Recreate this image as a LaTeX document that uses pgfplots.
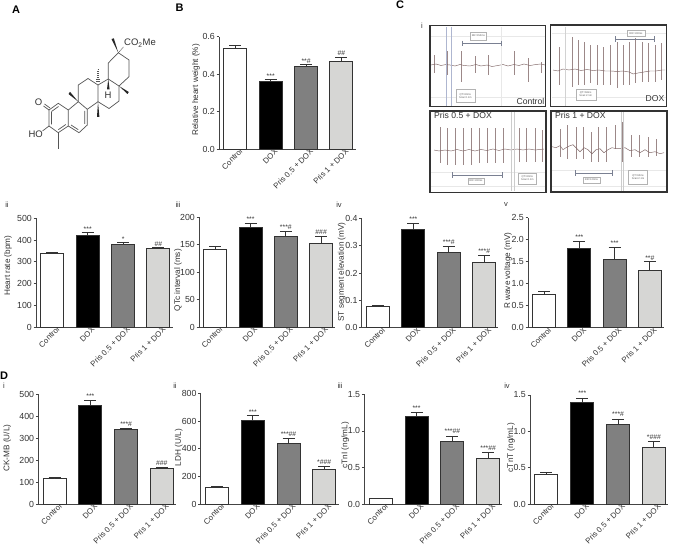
\documentclass[border=0pt]{standalone}
\usepackage{fontspec}
\setmainfont{Liberation Sans}
\usepackage{pgfplots}
\pgfplotsset{compat=1.18}
\definecolor{Ink}{HTML}{333333}
\definecolor{AxisGrey}{HTML}{444444}
\definecolor{BarMid}{HTML}{808080}
\definecolor{BarLight}{HTML}{D6D6D4}
\definecolor{Trace}{HTML}{9C8888}
\definecolor{TraceBase}{HTML}{7E6464}
\definecolor{Band}{HTML}{AEB6D0}
\definecolor{Bond}{HTML}{555555}
\tikzset{
  note/.style={font=\fontsize{6.8}{7}\selectfont, text=Ink, inner sep=0.5pt, anchor=south},
  tiny/.style={draw=gray!60, line width=0.3pt, fill=white, font=\fontsize{2.6}{3}\selectfont, text=gray!70!black, align=center, inner sep=0.5pt},
  bond/.style={draw=Bond, line width=0.7pt},
  wedge/.style={fill=black!85, draw=none},
  panel/.style={font=\bfseries\fontsize{11}{12}\selectfont, text=black, inner sep=0pt},
  sub/.style={font=\fontsize{7.5}{8}\selectfont, text=Ink, inner sep=0pt}
}
\pgfplotsset{
  bio/.style n args={4}{
    scale only axis, clip=false,
    at={(#1pt,-#2pt)}, anchor=south west,
    height=#2pt-#3pt, x=#4pt,
    ymin=0, xmin=-0.46, xmax=3.40,
    ybar, bar shift=0pt, bar width=23pt,
    axis x line=bottom, axis y line=left,
    axis line style={draw=AxisGrey, line width=1pt, -},
    xtick={0,1,2,3},
    xticklabels={Control,DOX,Pris 0.5 + DOX,Pris 1 + DOX},
    x tick style={draw=none},
    y tick style={draw=AxisGrey, line width=0.7pt},
    tick align=outside, major tick length=2.5pt,
    xticklabel style={rotate=45, anchor=north east, font=\fontsize{7.8}{8}\selectfont, text=Ink, xshift=6pt, yshift=1pt, inner sep=1pt},
    yticklabel style={font=\fontsize{8.8}{9}\selectfont, text=Ink, inner sep=1.5pt, /pgf/number format/assume math mode=true},
    scaled y ticks=false,
  },
  ylab/.style 2 args={
    every axis y label/.style={at={(rel axis cs:0,0.5)}, xshift=-#1pt, yshift=#2pt, rotate=90, anchor=center, font=\fontsize{8.2}{9}\selectfont, text=Ink, inner sep=0pt},
  },
  onedp/.style={yticklabel style={/pgf/number format/.cd, fixed, fixed zerofill, precision=1}},
  ecg/.style n args={6}{
    hide axis, scale only axis, at={(#1pt,-#2pt)}, anchor=south west,
    width=#3pt, height=#4pt, xmin=#1, xmax=#1+#3, ymin=#5, ymax=#6,
  },
}
\newcommand{\onebar}[4]{\addplot[fill=#4, draw=Ink, line width=1pt,
  error bars/.cd, y dir=plus, y explicit,
  error bar style={draw=Ink, line width=0.8pt},
  error mark options={rotate=90, mark size=6pt, draw=Ink, line width=0.8pt}]
  coordinates {(#1,#2) +- (0,#3)};}
\newcommand{\four}[8]{\onebar{0}{#1}{#2}{white}\onebar{1}{#3}{#4}{black}\onebar{2}{#5}{#6}{BarMid}\onebar{3}{#7}{#8}{BarLight}}
\newcommand{\mk}[3]{\node[note] at (axis cs:#1,#2) {#3};}
\begin{document}
\begin{tikzpicture}
\path[use as bounding box, fill=white] (0,0) rectangle (673pt,-551pt);

% panel B
\begin{axis}[bio={219}{149}{36.7}{35.4}, ylab={23}{3}, onedp, ymax=0.6, ytick={0,0.2,0.4,0.6},
  ylabel={Relative heart weight (\%)}]
\four{0.535}{0.02}{0.362}{0.01}{0.44}{0.01}{0.47}{0.02}
\mk{1}{0.375}{***}\mk{2}{0.452}{**\#}\mk{3}{0.495}{\#\#}
\end{axis}

% panel C ii-v
\begin{axis}[bio={36}{327}{218.3}{35.4}, ylab={28}{7}, ymax=500, ytick={0,100,...,500},
  ylabel={Heart rate (bpm)}]
\four{338}{5}{420}{15}{380}{9}{360}{7}
\mk{1}{437}{***}\mk{2}{391}{*}\mk{3}{369}{\#\#}
\end{axis}
\begin{axis}[bio={199}{327}{217.3}{35.3}, ylab={21}{-8}, ymax=200, ytick={0,50,100,150,200},
  ylabel={QTc interval (ms)}]
\four{142}{5}{181}{8}{165}{9}{153}{13}
\mk{1}{191}{***}\mk{2}{176}{***\#}\mk{3}{168}{\#\#\#}
\end{axis}
\begin{axis}[bio={361.7}{327.7}{218.3}{35.4}, ylab={20}{1}, onedp, ymax=0.4, ytick={0,0.1,0.2,0.3,0.4},
  ylabel={ST segment elevation (mV)}]
\four{0.079}{0.003}{0.36}{0.022}{0.275}{0.023}{0.24}{0.025}
\mk{1}{0.385}{***}\mk{2}{0.30}{***\#}\mk{3}{0.267}{***\#}
\end{axis}
\begin{axis}[bio={528}{327.7}{217.7}{35.2}, ylab={20}{2}, onedp, ymax=2.5, ytick={0,0.5,1,1.5,2,2.5},
  ylabel={R wave voltage (mV)}]
\four{0.75}{0.07}{1.81}{0.16}{1.55}{0.27}{1.3}{0.2}
\mk{1}{2.0}{***}\mk{2}{1.85}{***}\mk{3}{1.52}{**\#}
\end{axis}

% panel D
\begin{axis}[bio={38.3}{504}{394.3}{35.7}, ylab={31}{1}, ymax=500, ytick={0,100,...,500},
  ylabel={CK-MB (U/L)}]
\four{117}{6}{448}{25}{338}{8}{160}{8}
\mk{1}{478}{***}\mk{2}{352}{***\#}\mk{3}{172}{\#\#\#}
\end{axis}
\begin{axis}[bio={200.7}{504}{393.3}{35.7}, ylab={22}{1}, ymax=800, ytick={0,200,400,600,800},
  ylabel={LDH (U/L)}]
\four{117}{10}{600}{38}{435}{40}{250}{25}
\mk{1}{645}{***}\mk{2}{482}{***\#\#}\mk{3}{280}{*\#\#\#}
\end{axis}
\begin{axis}[bio={364.3}{504}{394.3}{35.8}, ylab={19}{4}, onedp, ymax=1.5, ytick={0,0.5,1,1.5},
  ylabel={cTnI (ng/mL)}]
\four{0.07}{0.01}{1.2}{0.05}{0.85}{0.08}{0.62}{0.08}
\mk{1}{1.27}{***}\mk{2}{0.95}{***\#\#}\mk{3}{0.72}{***\#\#}
\end{axis}
\begin{axis}[bio={530}{504}{395}{35.8}, ylab={19}{2}, onedp, ymax=1.5, ytick={0,0.5,1,1.5},
  ylabel={cTnT (ng/mL)}]
\four{0.4}{0.04}{1.4}{0.06}{1.1}{0.07}{0.78}{0.08}
\mk{1}{1.48}{***}\mk{2}{1.19}{***\#}\mk{3}{0.88}{*\#\#\#}
\end{axis}

% ECG traces, x in reference pixels, y in pixels above the baseline
\begin{axis}[ecg={430}{106.7}{116}{81.4}{-41.7}{39.7}]
\addplot[ycomb, draw=Trace, line width=0.5pt, no marks] coordinates {
 (434.7,10)(434.7,-8)(447.7,14)(447.7,-10)(461.3,14)(461.3,-17)(475,9)(475,-8)(488,10)(488,-10)
 (501.3,12)(501.3,-18)(514.3,14)(514.3,-10)(528.3,7)(528.3,-17)(541.3,3)(541.3,-8)};
\addplot[draw=TraceBase, line width=0.45pt, no marks] coordinates {
 (431,0)(436,1)(441,-0.5)(446,0.5)(450,0)(455,-1)(460,0.5)(464,-0.5)(470,-1)(476,0.5)(481,-1)(487,0)(492,-1.5)(498,-0.5)
 (503,0.5)(508,-1)(514,0.5)(519,-0.5)(524,1)(530,-0.5)(536,0.5)(541,1)(545,0)};
\end{axis}
\begin{axis}[ecg={551}{106.7}{116}{81.7}{-36.7}{45}]
\addplot[ycomb, draw=Trace, line width=0.5pt, no marks] coordinates {
 (559,23)(559,-15)(565.7,27)(565.7,-15)(572,33)(572,-17)(578,30)(578,-15)(584,28)(584,-15)(590.7,25)(590.7,-13)
 (597,25)(597,-15)(603,23)(603,-15)(610,25)(610,-15)(617,28)(617,-18)(623,25)(623,-15)(629,28)(629,-15)
 (635.7,32)(635.7,-13)(642,28)(642,-12)(648,27)(648,-12)(655,25)(655,-12)(661,27)(661,-10)};
\addplot[draw=TraceBase, line width=0.45pt, no marks] coordinates {
 (553,0)(558,-1)(563,1)(569,0)(575,1)(581,-0.5)(587,0.5)(593,-0.5)(599,0)(605,-1)(611,-1)(617,-1.5)(623,-1)(629,-2)(633,-4)
 (638,-3)(644,-2)(650,-1)(656,-1)(662,0)(665,0)};
\end{axis}
\begin{axis}[ecg={430}{192.3}{116}{81.3}{-42.3}{39}]
\addplot[ycomb, draw=Trace, line width=0.5pt, no marks] coordinates {
 (440,23)(440,-13)(447.7,22)(447.7,-15)(455.7,22)(455.7,-15)(463.7,22)(463.7,-15)(471.7,22)(471.7,-15)(479.3,22)(479.3,-13)
 (487.3,22)(487.3,-13)(495.7,22)(495.7,-13)(503.3,22)(503.3,-13)(511,27)(511,-18)(519,22)(519,-12)(526.7,22)(526.7,-12)
 (535,22)(535,-12)(542.7,20)(542.7,-12)};
\addplot[draw=TraceBase, line width=0.45pt, no marks] coordinates {
 (434,0)(439,-1)(445,0)(451,-1)(457,0.5)(463,-1)(469,0.5)(475,-1)(481,0.5)(487,-0.5)(493,1)(499,-0.5)(505,1)(511,0)(517,1)(523,0)(529,1)(535,0)(544,1)};
\end{axis}
\begin{axis}[ecg={551}{192.3}{116}{81.3}{-45.6}{35.7}]
\addplot[ycomb, draw=Trace, line width=0.5pt, no marks] coordinates {
 (560,18)(560,-10)(567.7,22)(567.7,-12)(576,20)(576,-12)(583,20)(583,-12)(591,15)(591,-15)(598,20)(598,-15)
 (606.7,20)(606.7,-15)(615,22)(615,-2)(622.7,25)(622.7,-15)(631.7,12)(631.7,-10)(639,12)(639,-10)(648,10)(648,-10)(656.7,8)(656.7,-9)};
\addplot[draw=TraceBase, line width=0.45pt, no marks] coordinates {
 (552,0)(556,-1)(560,1)(563,-3)(566,-1)(570,1)(573,2)(577,-2)(580,-5)(584,-1)(588,-3)(592,-7)(596,-3)(600,-2)(604,-6)(608,-3)
 (612,-1)(616,-2)(620,-2)(625,-1)(630,-4)(635,-3)(640,-6)(645,-3)(650,-6)(655,-5)(660,-7)(664,-6)};
\end{axis}

\begin{scope}[x=1pt,y=-1pt]
% ECG decorations
\foreach \xa/\ya/\xb/\yb in {431/36/545/36, 431/97/545/97, 501/27/501/106, 552/97/666/97, 552/33/666/33, 431/172/545/172, 431/186/545/186, 552/170/666/170, 552/186/666/186}
  \draw[gray!18, line width=0.3pt] (\xa,\ya) -- (\xb,\yb);
\draw[Band, line width=0.7pt] (446.7,27) -- (446.7,106) (451,27) -- (451,106);
\draw[gray!35, line width=1.2pt] (565.5,27) -- (565.5,106);
\draw[gray!40, line width=0.5pt] (511,112) -- (511,191) (514.3,112) -- (514.3,191) (621,112) -- (621,191) (623.3,112) -- (623.3,191);
\draw[Band!70!black, line width=0.35pt, |-|] (462.3,43.3) -- (501,43.3);
\draw[Band!70!black, line width=0.35pt, |-|] (615,39) -- (654.3,39);
\draw[Band!70!black, line width=0.35pt, |-|] (451.7,175) -- (502.3,175);
\draw[Band!70!black, line width=0.35pt, |-|] (575,173) -- (612.3,173);
\node[tiny, minimum width=16pt, minimum height=8pt] at (478.3,36) {RR=150ms};
\node[tiny, minimum width=18pt, minimum height=6.5pt] at (636,33.3) {RR=100ms};
\node[tiny, minimum width=16pt, minimum height=6pt] at (476,181) {RR=100ms};
\node[tiny, minimum width=17pt, minimum height=6.5pt] at (591.5,180) {RR=120ms};
\node[tiny, minimum width=19pt, minimum height=13pt] at (465.3,96) {QT=60ms\\Scan:2.1m};
\node[tiny, minimum width=20pt, minimum height=11pt] at (585.7,94.5) {QT=60ms\\Scan:2.1m};
\node[tiny, minimum width=18pt, minimum height=11pt] at (527.3,178.4) {QT=60ms\\Scan:2.1m};
\node[tiny, minimum width=19pt, minimum height=14pt] at (638,177) {QT=60ms\\Scan:2.1m};
\draw[draw=Ink, line width=1.2pt] (430,25.3) rectangle (545.7,106.7);
\draw[draw=Ink, line width=1.2pt] (550.7,25) rectangle (666.7,106.7);
\draw[draw=Ink, line width=1.2pt] (430,111) rectangle (546,192.3);
\draw[draw=Ink, line width=1.2pt] (551,111) rectangle (667,192);
\node[anchor=east, inner sep=0pt, font=\fontsize{8.6}{9}\selectfont, text=Ink] at (544.5,101.5) {Control};
\node[anchor=east, inner sep=0pt, font=\fontsize{8.6}{9}\selectfont, text=Ink] at (664.5,99) {DOX};
\node[anchor=west, inner sep=0pt, font=\fontsize{8.6}{9}\selectfont, text=Ink] at (434,115.7) {Pris 0.5 + DOX};
\node[anchor=west, inner sep=0pt, font=\fontsize{8.6}{9}\selectfont, text=Ink] at (555,115.7) {Pris 1 + DOX};

% structure in panel A
\draw[bond] (49,110) -- (58.3,103.3) -- (68.3,110) -- (68.3,126) -- (58.3,132.7) -- (49,126) -- cycle;
\draw[bond] (51.5,111.5) -- (58.5,106.5) (65.8,124.5) -- (58.3,129.7) (51.5,124.5) -- (51.5,112);
\draw[bond] (49,110) -- (43.5,106) (50,108) -- (44.5,104);
\draw[bond] (49,126) -- (42.5,131);
\draw[bond] (58.3,132.7) -- (58.3,149.3);
\draw[bond] (68.3,110) -- (78.3,101.7) -- (87.3,109.3) -- (87.3,125) -- (79,132.7) -- (68.3,126);
\draw[bond] (84.8,111) -- (84.8,124) (78.3,129.7) -- (71,125);
\draw[bond] (78.3,101.7) -- (78.3,85) -- (88,78.5) -- (98,85) -- (98,101.7) -- (87.3,109.3);
\draw[bond] (98,85) -- (108.3,79) -- (119,86) -- (119,101) -- (109,108.5) -- (98,101.7);
\draw[bond] (108.3,79) -- (108.3,63) -- (118.3,52.7) -- (129,60) -- (129,76.7) -- (119,86);
\fill[wedge] (118.3,52.7) -- (111.5,39) -- (113.8,38.3) -- cycle;
\draw[bond, dashed, dash pattern=on 0.8pt off 0.7pt] (118.3,52.7) -- (123.5,47);
\fill[wedge] (78.3,101.7) -- (68.5,94) -- (70,91.8) -- cycle;
\fill[wedge] (98,101.7) -- (97,117) -- (99.4,117) -- cycle;
\fill[wedge] (119,86) -- (127.5,94) -- (128.8,92) -- cycle;
\fill[wedge] (108.3,79) -- (107,89.5) -- (109.6,89.5) -- cycle;
\foreach \yy/\hw in {71/0.4, 73/0.7, 75/1, 77/1.2, 79/1.4, 81/1.6, 83/1.8}
  \draw[Bond, line width=0.4pt] ({98-\hw},{\yy-2}) -- ({98+\hw},{\yy-2});
\node[inner sep=0pt, font=\fontsize{9.5}{10}\selectfont, text=Ink] at (108,95) {H};
\node[inner sep=0pt, font=\fontsize{9.5}{10}\selectfont, text=Ink] at (38.5,102) {O};
\node[inner sep=0pt, font=\fontsize{9.5}{10}\selectfont, text=Ink, anchor=east] at (43,134.5) {HO};
\node[inner sep=0pt, font=\fontsize{9.5}{10}\selectfont, text=Ink, anchor=west] at (124,43) {CO\textsubscript{2}Me};

% panel letters
\node[panel] at (16,10) {A};
\node[panel] at (179.5,8) {B};
\node[panel] at (400,5) {C};
\node[panel] at (4,375.5) {D};
\node[sub] at (422,26) {i};
\node[sub] at (7,205) {ii};
\node[sub] at (178,205) {iii};
\node[sub] at (339,205) {iv};
\node[sub] at (506,205) {v};
\node[sub] at (4,386) {i};
\node[sub] at (175,386) {ii};
\node[sub] at (340,386) {iii};
\node[sub] at (507,386) {iv};
\end{scope}
\end{tikzpicture}
\end{document}
